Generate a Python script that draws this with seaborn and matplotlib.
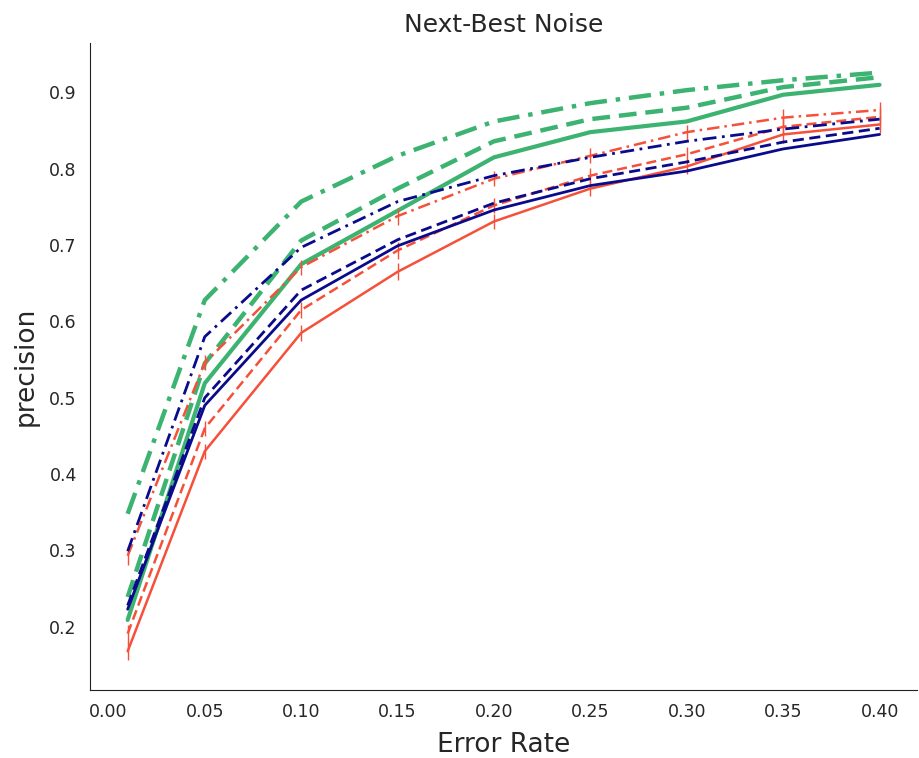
import matplotlib
matplotlib.use("Agg")
import matplotlib.pyplot as plt
import seaborn as sns

# error rates on the x axis
error_rate = [0.01, 0.05, 0.10, 0.15, 0.20, 0.25, 0.30, 0.35, 0.40]

# green series
green_solid = [0.209, 0.519, 0.675, 0.745, 0.815, 0.848, 0.862, 0.897, 0.910]
green_dashed = [0.239, 0.545, 0.706, 0.774, 0.836, 0.865, 0.880, 0.907, 0.920]
green_dashdot = [0.348, 0.628, 0.757, 0.817, 0.862, 0.886, 0.903, 0.916, 0.926]

# navy series
navy_solid = [0.223, 0.490, 0.628, 0.699, 0.746, 0.778, 0.797, 0.826, 0.845]
navy_dashed = [0.228, 0.500, 0.641, 0.707, 0.755, 0.787, 0.809, 0.835, 0.853]
navy_dashdot = [0.299, 0.580, 0.697, 0.757, 0.791, 0.815, 0.836, 0.852, 0.865]

# red series (with error bars)
red_solid = [0.168, 0.430, 0.585, 0.665, 0.731, 0.774, 0.803, 0.845, 0.858]
red_dashed = [0.191, 0.460, 0.615, 0.693, 0.752, 0.791, 0.819, 0.855, 0.868]
red_dashdot = [0.293, 0.546, 0.671, 0.738, 0.787, 0.817, 0.848, 0.867, 0.877]
red_err = [0.012, 0.010, 0.010, 0.011, 0.010, 0.010, 0.010, 0.011, 0.011]

GREEN = "#3cb371"
NAVY = "#0a0a8c"
RED = "#f5503a"

sns.set_style("white")
fig = plt.figure(figsize=(9.19, 7.58), dpi=100)
ax = fig.add_axes([0.098, 0.09, 0.90, 0.853])

series = [
    (green_solid, GREEN, "-", 3.0, None),
    (green_dashed, GREEN, (0, (4, 2)), 3.2, None),
    (green_dashdot, GREEN, (0, (5, 2, 1, 2)), 3.2, None),
    (red_solid, RED, "-", 1.8, red_err),
    (red_dashed, RED, (0, (4, 2)), 1.8, red_err),
    (red_dashdot, RED, (0, (5, 2, 1, 2)), 1.8, red_err),
    (navy_solid, NAVY, "-", 2.0, None),
    (navy_dashed, NAVY, (0, (4, 2)), 2.0, None),
    (navy_dashdot, NAVY, (0, (5, 2, 1, 2)), 2.0, None),
]

for vals, color, ls, lw, err in series:
    sns.lineplot(x=error_rate, y=vals, color=color, linestyle=ls, linewidth=lw, ax=ax)
    if err is not None:
        ax.errorbar(error_rate, vals, yerr=err, fmt="none", ecolor=color, elinewidth=1.0)

ax.set_title("Next-Best Noise", fontsize=18, pad=8)
ax.set_xlabel("Error Rate", fontsize=19, labelpad=8)
ax.set_ylabel("precision", fontsize=19, labelpad=8)
ax.set_xticks([0.0, 0.05, 0.10, 0.15, 0.20, 0.25, 0.30, 0.35, 0.40])
ax.set_yticks([0.2, 0.3, 0.4, 0.5, 0.6, 0.7, 0.8, 0.9])
ax.tick_params(labelsize=12.5, pad=6)
sns.despine(ax=ax)
for sp in ax.spines.values():
    sp.set_color("#222222")

fig.savefig("out.png", dpi=100)
